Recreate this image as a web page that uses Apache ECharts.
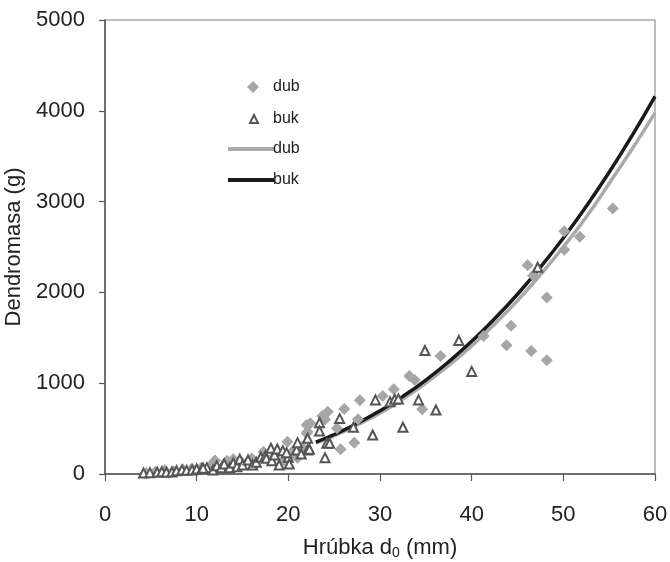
<!DOCTYPE html>
<html>
<head>
<meta charset="utf-8">
<script src="https://cdn.jsdelivr.net/npm/echarts@6/dist/echarts.min.js"></script>
<style>html,body{margin:0;padding:0;background:#fff}#c{width:670px;height:562px}</style>
</head>
<body>
<div id="c"></div>
<script>
// Dub (oak) measured points [d0 mm, biomass g]
const dubPoints = [
  [4.5,10],[5.5,25],[6.5,40],[7.5,30],[8.5,50],[9.5,60],[10.5,70],[11.5,90],[12.0,150],[13.3,147],
  [14.0,162],[15.0,120],[16.0,170],[17.3,246],[18.5,200],[19.9,356],[19.5,150],[20.5,250],[21.0,180],
  [22.0,540],[22.4,559],[22.1,466],[21.5,300],[22.0,449],[23.7,640],[24.3,686],[24.0,600],[25.3,504],
  [25.7,272],[26.1,716],[27.2,345],[27.6,603],[27.8,812],[30.3,860],[31.5,934],[33.2,1080],[33.8,1036],
  [34.6,713],[36.6,1300],[41.3,1521],[43.8,1418],[44.3,1634],[46.1,2300],[46.7,2187],[46.5,1354],
  [48.2,1945],[48.2,1254],[50.1,2674],[50.1,2470],[51.8,2613],[55.4,2924]
];
// Buk (beech) measured points
const bukPoints = [
  [4.2,10],[4.9,15],[5.7,20],[6.2,25],[6.7,20],[7.3,22],[7.8,35],[8.4,45],[8.9,40],[9.5,45],
  [10.0,55],[10.6,60],[11.1,70],[10.7,63],[11.8,44],[12.2,90],[12.7,70],[13.0,110],[13.6,70],[14.0,120],
  [14.4,81],[14.7,162],[15.0,100],[15.6,154],[16.1,99],[16.5,130],[17.0,184],[17.5,200],[17.6,173],
  [18.2,147],[18.5,210],[19.0,99],[20.0,184],[20.9,265],[20.1,110],[18.1,283],[18.8,276],[19.4,257],
  [21.0,345],[22.1,393],[22.1,265],[19.8,235],[21.4,220],[22.3,272],[23.4,565],[23.4,474],[24.2,338],
  [24.5,338],[24.0,180],[25.6,610],[27.1,515],[29.2,430],[29.5,816],[31.1,797],[31.6,823],[32.0,827],
  [32.5,515],[34.2,816],[34.9,1360],[36.1,705],[38.6,1470],[40.0,1130],[47.2,2277]
];
// Fitted curves
const fitX   = [23, 25, 27.5, 30, 32.5, 35, 37.5, 40, 42.5, 45, 47.5, 50, 52.5, 55, 57.5, 60];
const dubFit = [340, 420, 540, 670, 825, 1000, 1195, 1410, 1650, 1910, 2195, 2500, 2830, 3200, 3580, 3977];
const bukFit = [351, 435, 556, 696, 855, 1035, 1237, 1461, 1709, 1980, 2277, 2599, 2948, 3323, 3727, 4160];
const xTicks = [0, 10, 20, 30, 40, 50, 60];
const yTicks = [0, 1000, 2000, 3000, 4000, 5000];
const legendNames = {dubPts: 'dub', bukPts: 'buk', dubFit: 'dub', bukFit: 'buk'};

const chart = echarts.init(document.getElementById('c'));
const font = 'Liberation Sans, Arial, sans-serif';
const axisCol = '#555';
const txt = '#222';
const legText = {fontSize: 16, color: txt, fontFamily: font, lineHeight: 18};
chart.setOption({
  animation: false,
  textStyle: {fontFamily: font},
  grid: {left: 105, right: 15, top: 20, bottom: 88, containLabel: false, outerBoundsMode: 'none',
         show: true, borderColor: '#a8a8a8', borderWidth: 1.5},
  legend: [
    {
      orient: 'vertical', left: 242, top: 73, itemWidth: 12, itemHeight: 12,
      data: ['dubPts'],
      formatter: n => legendNames[n],
      textStyle: Object.assign({}, legText, {padding: [0, 0, 0, 9]})
    },
    {
      orient: 'vertical', left: 244, top: 105, itemWidth: 8, itemHeight: 8,
      data: ['bukPts'],
      formatter: n => legendNames[n],
      textStyle: Object.assign({}, legText, {padding: [0, 0, 0, 10]})
    },
    {
      orient: 'vertical', left: 223, top: 135, itemWidth: 46, itemHeight: 4, itemGap: 13,
      data: [{name: 'dubFit', icon: 'rect'}, {name: 'bukFit', icon: 'rect'}],
      formatter: n => legendNames[n],
      textStyle: Object.assign({}, legText, {padding: [0, 0, 0, -6]})
    }
  ],
  xAxis: {
    type: 'value', min: xTicks[0], max: xTicks[xTicks.length - 1], interval: 10,
    name: 'Hrúbka d{s|0} (mm)', nameLocation: 'middle', nameGap: 62,
    nameTextStyle: {fontSize: 22, color: txt, fontFamily: font,
      rich: {s: {fontSize: 14, verticalAlign: 'bottom', padding: [10, 0, 0, 0], color: txt, fontFamily: font}}},
    axisLine: {lineStyle: {color: axisCol, width: 1.5}},
    axisTick: {length: 7, lineStyle: {color: axisCol, width: 1.2}},
    axisLabel: {fontSize: 22, color: txt, margin: 30, fontFamily: font},
    splitLine: {show: false}
  },
  yAxis: {
    type: 'value', min: yTicks[0], max: yTicks[yTicks.length - 1], interval: 1000,
    name: 'Dendromasa (g)', nameLocation: 'middle', nameGap: 69,
    nameTextStyle: {fontSize: 22, color: txt, fontFamily: font},
    axisLine: {show: true, lineStyle: {color: axisCol, width: 1.5}},
    axisTick: {show: true, length: 6, lineStyle: {color: axisCol, width: 1.2}},
    axisLabel: {fontSize: 22, color: txt, margin: 20, fontFamily: font, formatter: v => String(v)},
    splitLine: {show: false}
  },
  series: [
    {name: 'dubFit', type: 'line', data: fitX.map((x, i) => [x, dubFit[i]]), smooth: true,
     symbol: 'none', lineStyle: {color: '#aaaaaa', width: 3.5}, itemStyle: {color: '#aaaaaa'}, z: 2},
    {name: 'bukFit', type: 'line', data: fitX.map((x, i) => [x, bukFit[i]]), smooth: true,
     symbol: 'none', lineStyle: {color: '#1a1a1a', width: 3.5}, itemStyle: {color: '#1a1a1a'}, z: 3},
    {name: 'dubPts', type: 'scatter', data: dubPoints, symbol: 'diamond', symbolSize: 12,
     itemStyle: {color: '#a6a6a6', opacity: 1}, z: 4},
    {name: 'bukPts', type: 'scatter', data: bukPoints, symbol: 'triangle', symbolSize: 9,
     itemStyle: {color: '#ffffff', borderColor: '#555555', borderWidth: 2, opacity: 1}, z: 5}
  ]
});
</script>
</body>
</html>
